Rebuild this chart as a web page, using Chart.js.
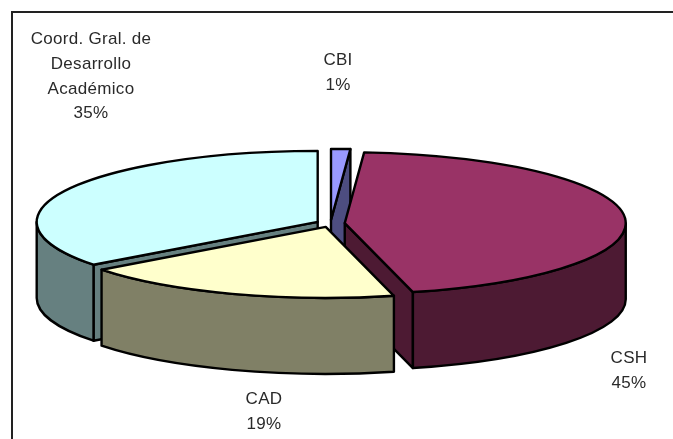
<!DOCTYPE html>
<html>
<head>
<meta charset="utf-8">
<style>
    html, body { margin: 0; padding: 0; background: #fff; overflow: hidden; }
    #frame { position: absolute; left: 11px; top: 11px; width: 662px; height: 428px; border-top: 2px solid #222; border-left: 2px solid #222; box-sizing: border-box; }
    #pie { position: absolute; left: 0; top: 0; }
</style>
<script src="https://cdn.jsdelivr.net/npm/chart.js@4/dist/chart.umd.min.js"></script>
</head>
<body>
<div id="frame"></div>
<canvas id="pie" width="673" height="439"></canvas>
<script>
// --- Data ---
const categories = ['CBI', 'CSH', 'CAD', 'Coord. Gral. de Desarrollo Académico'];
const shares = [1.1, 45, 18.6, 35.3];
const topColors = ['#9999FF', '#993366', '#FFFFCC', '#CCFFFF'];
const sideColors = ['#4D4D80', '#4D1A33', '#808066', '#668080'];

// --- 3D look ---
const tilt = 0.2527;    // squash of the circle into an ellipse
const depth = 76;       // wall height in px
const explode = 14.3;   // how far a slice moves out, before the squash
const outline = 2.4;

// slices whose walls are painted first sit at the back
const wallOrder = [0, 3, 1, 2];

// label block centres, one entry per category
const labelLines = [['CBI', '1%'], ['CSH', '45%'], ['CAD', '19%'], ['Coord. Gral. de', 'Desarrollo', 'Académico', '35%']];
const labelSpots = [{ x: 338, y: 60.5 }, { x: 629, y: 358.5 }, { x: 264, y: 399.5 }, { x: 91, y: 39.5 }];
const lineStep = 24.7;

// arc centre on screen, with the explode shift included
function sliceGeometry(arc) {
    const mid = (arc.startAngle + arc.endAngle) / 2;
    return {
        x: arc.x + Math.cos(mid) * explode,
        y: arc.y + Math.sin(mid) * explode * tilt,
        r: arc.outerRadius,
        a: arc.startAngle,
        b: arc.endAngle
    };
}

function paint(ctx, fill) {
    ctx.fillStyle = fill;
    ctx.strokeStyle = '#000';
    ctx.lineWidth = outline;
    ctx.lineJoin = 'round';
    ctx.fill();
    ctx.stroke();
}

function radialWall(ctx, g, angle, fill) {
    const rimX = g.x + Math.cos(angle) * g.r;
    const rimY = g.y + Math.sin(angle) * g.r * tilt;
    ctx.beginPath();
    ctx.moveTo(g.x, g.y);
    ctx.lineTo(rimX, rimY);
    ctx.lineTo(rimX, rimY + depth);
    ctx.lineTo(g.x, g.y + depth);
    ctx.closePath();
    paint(ctx, fill);
}

function outerWall(ctx, g, fill) {
    // only the part of the rim that faces the viewer, angles 0..PI
    const lo = Math.max(g.a, 0), hi = Math.min(g.b, Math.PI);
    if (hi <= lo) return;
    const ry = g.r * tilt;
    ctx.beginPath();
    ctx.ellipse(g.x, g.y, g.r, ry, 0, lo, hi);
    ctx.ellipse(g.x, g.y + depth, g.r, ry, 0, hi, lo, true);
    ctx.closePath();
    paint(ctx, fill);
}

const pie3d = {
    id: 'pie3d',
    // takes over the dataset draw: each arc element is drawn here, moved and squashed
    beforeDatasetDraw(chart) {
        const ctx = chart.ctx;
        const arcs = chart.getDatasetMeta(0).data;
        wallOrder.forEach(i => {
            const g = sliceGeometry(arcs[i]);
            if (-Math.cos(g.a) > 1e-6) radialWall(ctx, g, g.a, sideColors[i]);
            if (Math.cos(g.b) > 1e-6) radialWall(ctx, g, g.b, sideColors[i]);
            outerWall(ctx, g, sideColors[i]);
        });
        arcs.forEach(arc => {
            const g = sliceGeometry(arc);
            ctx.save();
            ctx.translate(g.x - arc.x, g.y);
            ctx.scale(1, tilt);
            ctx.translate(0, -arc.y);
            arc.draw(ctx);
            ctx.restore();
            // outline here so the line width is not squashed
            ctx.beginPath();
            ctx.moveTo(g.x, g.y);
            ctx.ellipse(g.x, g.y, g.r, g.r * tilt, 0, g.a, g.b);
            ctx.closePath();
            ctx.strokeStyle = '#000';
            ctx.lineWidth = outline;
            ctx.lineJoin = 'round';
            ctx.stroke();
        });
        return false;
    },
    afterDraw(chart) {
        const ctx = chart.ctx;
        ctx.save();
        ctx.font = '17px "Liberation Sans"';
        ctx.letterSpacing = '0.3px';
        ctx.fillStyle = '#2a2a2a';
        ctx.textAlign = 'center';
        ctx.textBaseline = 'middle';
        labelLines.forEach((lines, i) => {
            lines.forEach((line, n) => {
                ctx.fillText(line, labelSpots[i].x, labelSpots[i].y + n * lineStep);
            });
        });
        ctx.restore();
    }
};

new Chart(document.getElementById('pie'), {
    type: 'pie',
    data: {
        labels: categories,
        datasets: [{
            data: shares,
            backgroundColor: topColors,
            borderWidth: 0
        }]
    },
    options: {
        responsive: false,
        animation: false,
        radius: 281,
        layout: { padding: { top: 8, right: 12 } },
        plugins: {
            legend: { display: false },
            tooltip: { enabled: false }
        }
    },
    plugins: [pie3d]
});
</script>
</body>
</html>
